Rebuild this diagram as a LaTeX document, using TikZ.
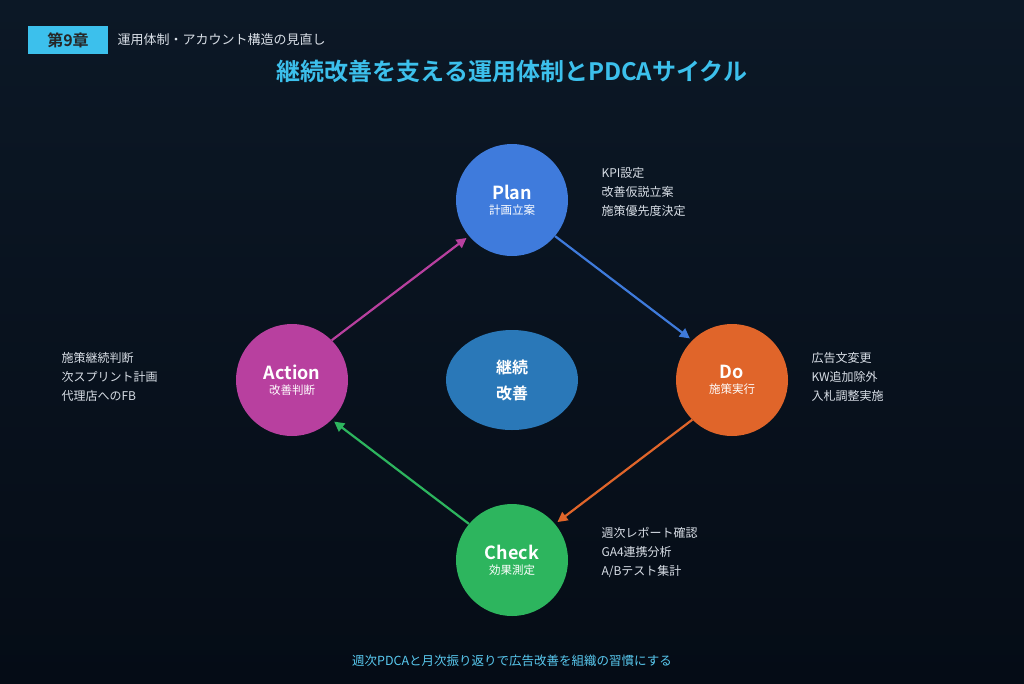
\documentclass[tikz,border=0pt]{standalone}
\usepackage{fontspec}
\setmainfont{Noto Sans CJK JP}
\newfontfamily\bfj{Noto Sans CJK JP Bold}
\usetikzlibrary{arrows.meta,shapes.geometric}
\definecolor{bgtop}{HTML}{0C1826}
\definecolor{bgbot}{HTML}{050C16}
\definecolor{cyanc}{HTML}{3CC0EC}
\definecolor{planc}{HTML}{3F7BDC}
\definecolor{doc}{HTML}{E0652A}
\definecolor{checkc}{HTML}{2DB55E}
\definecolor{actc}{HTML}{B8409F}
\definecolor{midc}{HTML}{2A78B8}
\definecolor{txt}{HTML}{D8DEE6}
\begin{document}
\begin{tikzpicture}[x=1pt,y=-1pt,
  phase/.style={circle,minimum size=112pt,inner sep=0pt,align=center,text=white},
  note/.style={anchor=west,align=left,text=txt,font=\fontsize{12}{19}\selectfont},
  arr/.style={line width=2.2pt,shorten >=3pt,-{Triangle[length=10pt,width=10pt]}}]
\fill[top color=bgtop,bottom color=bgbot] (0,0) rectangle (1024,683);
\useasboundingbox (0,0) rectangle (1024,683);
\node[fill=cyanc,minimum width=80pt,minimum height=28pt,inner sep=0pt,font=\bfj\fontsize{16}{16}\selectfont,text=black!85] (ch) at (68,40) {第9章};
\node[anchor=west,text=txt,font=\fontsize{13}{13}\selectfont] (sub) at (114,40) {運用体制・アカウント構造の見直し};
\node[text=cyanc,font=\bfj\fontsize{24}{24}\selectfont] (title) at (512,71) {継続改善を支える運用体制とPDCAサイクル};
\node[phase,fill=planc] (plan) at (512,200) {{\bfj\fontsize{18}{20}\selectfont Plan}\\[3pt]{\fontsize{11.5}{13}\selectfont 計画立案}};
\node[phase,fill=doc] (do) at (732,380) {{\bfj\fontsize{18}{20}\selectfont Do}\\[3pt]{\fontsize{11.5}{13}\selectfont 施策実行}};
\node[phase,fill=checkc] (check) at (512,560) {{\bfj\fontsize{18}{20}\selectfont Check}\\[3pt]{\fontsize{11.5}{13}\selectfont 効果測定}};
\node[phase,fill=actc] (act) at (292,380) {{\bfj\fontsize{18}{20}\selectfont Action}\\[3pt]{\fontsize{11.5}{13}\selectfont 改善判断}};
\node[ellipse,fill=midc,minimum width=132pt,minimum height=100pt,align=center,text=white,font=\bfj\fontsize{16}{26}\selectfont] (mid) at (512,380) {継続\\改善};
\draw[arr,planc] (plan.-40) -- (do.135);
\draw[arr,doc] (do.-135) -- (check.40);
\draw[arr,checkc] (check.140) -- (act.-45);
\draw[arr,actc] (act.45) -- (plan.-140);
\node[note] (n1) at (598,192) {KPI設定\\改善仮説立案\\施策優先度決定};
\node[note] (n2) at (808,377) {広告文変更\\KW追加除外\\入札調整実施};
\node[note] (n3) at (598,552) {週次レポート確認\\GA4連携分析\\A/Bテスト集計};
\node[note] (n4) at (58,377) {施策継続判断\\次スプリント計画\\代理店へのFB};
\node[text=cyanc!85!white,font=\fontsize{12.5}{13}\selectfont] (foot) at (512,661) {週次PDCAと月次振り返りで広告改善を組織の習慣にする};
\end{tikzpicture}
\end{document}
